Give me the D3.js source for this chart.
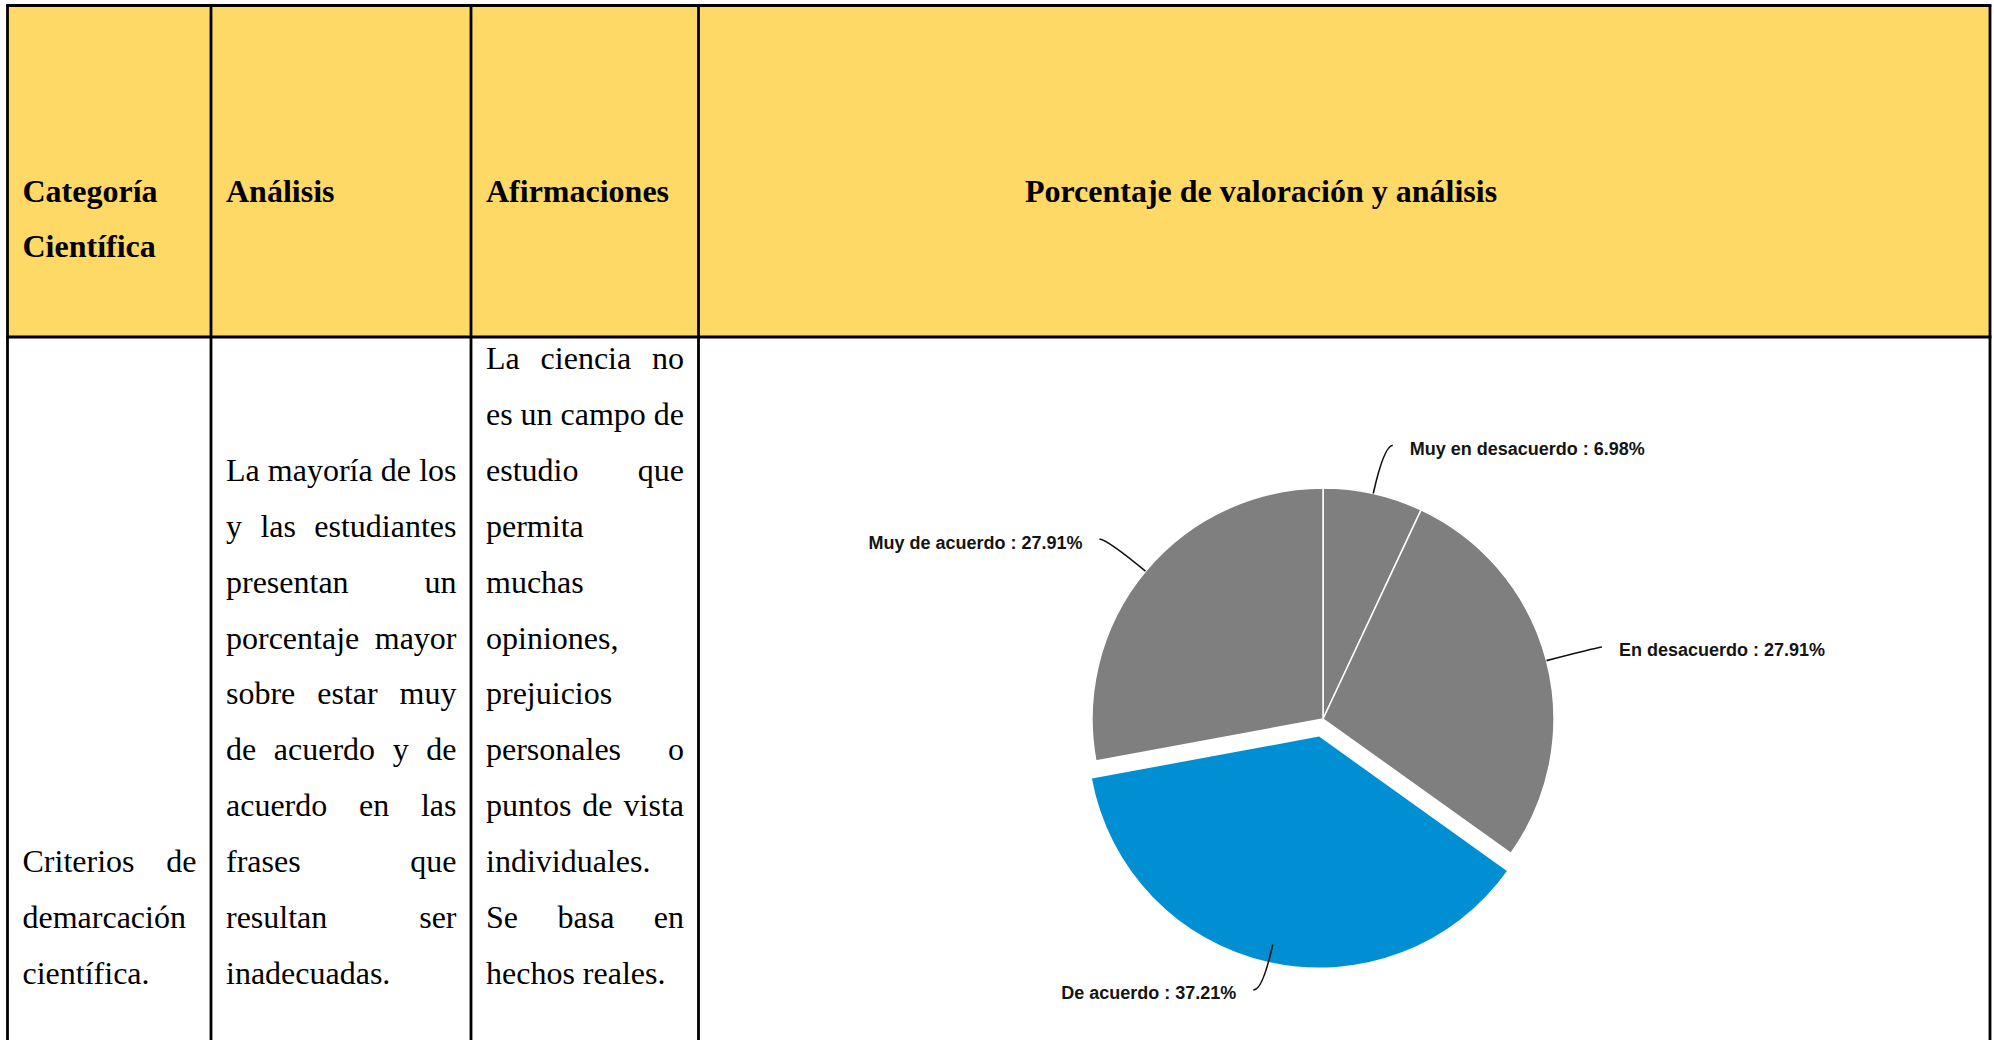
<!DOCTYPE html>
<html>
<head>
<meta charset="utf-8">
<script src="https://cdn.jsdelivr.net/npm/d3@7"></script>
<style>
  body { margin: 0; background: #fff; }
  svg { display: block; }
</style>
</head>
<body>
<div id="chart"></div>
<script>
// table content
const headers = [['Categoría', 'Científica'], ['Análisis'], ['Afirmaciones'], ['Porcentaje de valoración y análisis']]

const categoriaLines = ['Criterios de', 'demarcación', 'científica.']
const categoriaJustify = [true, false, false]

const analisisLines = ['La mayoría de los', 'y las estudiantes', 'presentan un', 'porcentaje mayor', 'sobre estar muy',
  'de acuerdo y de', 'acuerdo en las', 'frases que', 'resultan ser', 'inadecuadas.']
const analisisJustify = [true, true, true, true, true, true, true, true, true, false]

const afirmacionLines = ['La ciencia no', 'es un campo de', 'estudio que', 'permita', 'muchas', 'opiniones,',
  'prejuicios', 'personales o', 'puntos de vista', 'individuales.', 'Se basa en', 'hechos reales.']
const afirmacionJustify = [true, true, true, false, false, false, false, true, true, false, true, false]

// pie values
const categories = ['Muy en desacuerdo', 'En desacuerdo', 'De acuerdo', 'Muy de acuerdo']
const percents = [6.98, 27.91, 37.21, 27.91]
const highlighted = 'De acuerdo'

const width = 1994
const height = 1040

const svg = d3.select('#chart')
  .append('svg')
  .attr('width', width)
  .attr('height', height)

// column edges and row layout
const colX = [7.5, 211, 471, 698.5, 1990]
const tableTop = 5.5
const headerBottom = 337
const padLeft = 15
const padRight = 14.5
const firstBaseline = 369
const lineHeight = 55.9

svg.append('rect')
  .attr('x', colX[0])
  .attr('y', tableTop)
  .attr('width', colX[4] - colX[0])
  .attr('height', headerBottom - tableTop)
  .attr('fill', '#ffd966')

// header text
headers.forEach((lines, i) => {
  const last = i === headers.length - 1
  lines.forEach((line, j) => {
    svg.append('text')
      .text(line)
      .attr('x', last ? 1261 : colX[i] + padLeft)
      .attr('y', 202 + j * 55)
      .attr('text-anchor', last ? 'middle' : 'start')
      .attr('font-family', 'Liberation Serif, Times New Roman, serif')
      .attr('font-weight', 'bold')
      .attr('font-size', 32)
      .attr('fill', '#000')
  })
})

// body text, justified like the document
function drawParagraph(col, lines, justify, startRow) {
  const x0 = colX[col] + padLeft
  const x1 = colX[col + 1] - padRight
  lines.forEach((line, i) => {
    const y = firstBaseline + (startRow + i) * lineHeight
    const words = line.split(' ')
    const g = svg.append('g')
      .attr('font-family', 'Liberation Serif, Times New Roman, serif')
      .attr('font-size', 32)
      .attr('fill', '#000')
    if (!justify[i] || words.length < 2) {
      g.append('text').text(line).attr('x', x0).attr('y', y)
      return
    }
    const nodes = words.map(w => g.append('text').text(w).attr('y', y))
    const widths = nodes.map(n => n.node().getComputedTextLength())
    const gap = (x1 - x0 - d3.sum(widths)) / (words.length - 1)
    let x = x0
    nodes.forEach((n, k) => {
      n.attr('x', x)
      x += widths[k] + gap
    })
  })
}

drawParagraph(0, categoriaLines, categoriaJustify, 9)
drawParagraph(1, analisisLines, analisisJustify, 2)
drawParagraph(2, afirmacionLines, afirmacionJustify, 0)

// grid lines
const grid = svg.append('g')
  .attr('stroke', '#000')
  .attr('stroke-width', 2.8)

colX.forEach(x => {
  grid.append('line')
    .attr('x1', x).attr('x2', x)
    .attr('y1', tableTop).attr('y2', height + 5)
})
;[tableTop, headerBottom].forEach(y => {
  grid.append('line')
    .attr('x1', colX[0] - 1.4).attr('x2', colX[4] + 1.4)
    .attr('y1', y).attr('y2', y)
})

// pie
const cx = 1323
const cy = 719
const radius = 231
const explode = 18

const data = categories.map((c, i) => ({ name: c, value: percents[i] }))

const pie = d3.pie()
  .sort(null)
  .value(d => d.value)

const arc = d3.arc()
  .innerRadius(0)
  .outerRadius(radius)

const arcs = pie(data)

const pieG = svg.append('g')
  .attr('transform', 'translate(' + cx + ',' + cy + ')')

const mid = d => (d.startAngle + d.endAngle) / 2

pieG.selectAll('path')
  .data(arcs)
  .enter()
  .append('path')
  .attr('d', arc)
  .attr('fill', d => d.data.name === highlighted ? '#008fd3' : '#7f7f7f')
  .attr('stroke', '#fff')
  .attr('stroke-width', d => d.data.name === highlighted ? 0 : 1.5)
  .attr('stroke-linejoin', 'round')
  .attr('transform', d => {
    if (d.data.name !== highlighted) return null
    const a = mid(d)
    return 'translate(' + explode * Math.sin(a) + ',' + (-explode * Math.cos(a)) + ')'
  })

// leader lines and labels
const fmt = d3.format('.2f')
const labelR = radius + 48

arcs.forEach(d => {
  const a = mid(d)
  const sx = Math.sin(a)
  const sy = -Math.cos(a)
  const right = sx > 0
  const start = [radius * sx, radius * sy]
  const elbow = [labelR * sx, labelR * sy]
  const end = [elbow[0] + (right ? 9 : -9), elbow[1] - 1.5]

  const p = d3.path()
  p.moveTo(start[0], start[1])
  p.quadraticCurveTo(elbow[0], elbow[1], end[0], end[1])

  pieG.append('path')
    .attr('d', p.toString())
    .attr('fill', 'none')
    .attr('stroke', '#111')
    .attr('stroke-width', 1.6)

  pieG.append('text')
    .text(d.data.name + ' : ' + fmt(d.data.value) + '%')
    .attr('x', end[0] + (right ? 17 : -17))
    .attr('y', end[1] + 9.5)
    .attr('text-anchor', right ? 'start' : 'end')
    .attr('font-family', 'Liberation Sans, Arial, sans-serif')
    .attr('font-weight', 'bold')
    .attr('font-size', 18)
    .attr('fill', '#141414')
})
</script>
</body>
</html>
